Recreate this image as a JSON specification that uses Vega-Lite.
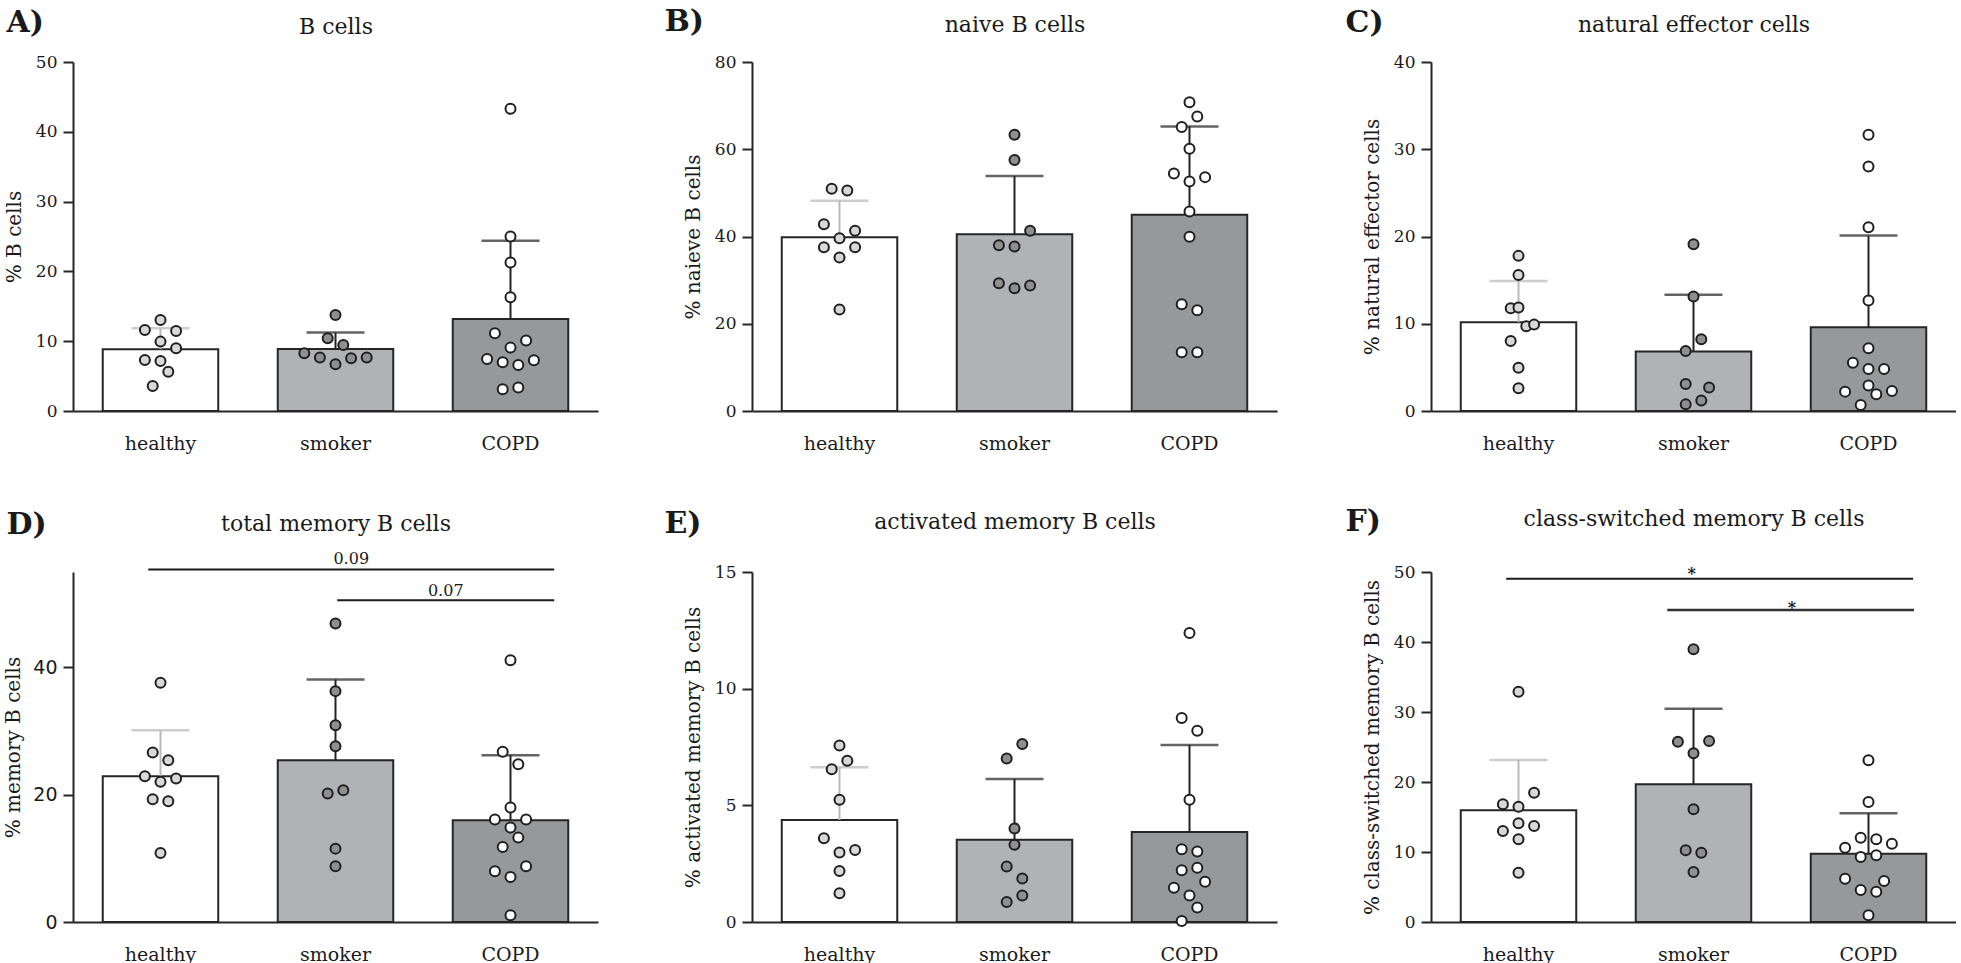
{
"$schema":"https://vega.github.io/schema/vega-lite/v6.json",
"background":"white",
"padding":{"left":3,"top":6,"right":0,"bottom":0},
"datasets":{
"bars":[
{"p":"A","g":"healthy","mean":8.85,"upper":11.85},{"p":"A","g":"smoker","mean":8.9,"upper":11.23},{"p":"A","g":"COPD","mean":13.19,"upper":24.38},
{"p":"B","g":"healthy","mean":39.85,"upper":48.18},{"p":"B","g":"smoker","mean":40.54,"upper":53.84},{"p":"B","g":"COPD","mean":44.97,"upper":65.24},
{"p":"C","g":"healthy","mean":10.17,"upper":14.91},{"p":"C","g":"smoker","mean":6.81,"upper":13.31},{"p":"C","g":"COPD","mean":9.6,"upper":20.11},
{"p":"D","g":"healthy","mean":22.91,"upper":30.14},{"p":"D","g":"smoker","mean":25.43,"upper":38.11},{"p":"D","g":"COPD","mean":15.99,"upper":26.21},
{"p":"E","g":"healthy","mean":4.37,"upper":6.63},{"p":"E","g":"smoker","mean":3.52,"upper":6.13},{"p":"E","g":"COPD","mean":3.86,"upper":7.59},
{"p":"F","g":"healthy","mean":15.95,"upper":23.14},{"p":"F","g":"smoker","mean":19.67,"upper":30.48},{"p":"F","g":"COPD","mean":9.76,"upper":15.52}
],
"dots":[
{"p":"A","g":"healthy","v":13.05,"c":0},{"p":"A","g":"healthy","v":11.62,"c":-2},{"p":"A","g":"healthy","v":11.47,"c":2},{"p":"A","g":"healthy","v":9.94,"c":0},{"p":"A","g":"healthy","v":8.99,"c":2},{"p":"A","g":"healthy","v":7.31,"c":-2},{"p":"A","g":"healthy","v":7.17,"c":0},{"p":"A","g":"healthy","v":5.64,"c":1},{"p":"A","g":"healthy","v":3.59,"c":-1},
{"p":"A","g":"smoker","v":13.77,"c":0},{"p":"A","g":"smoker","v":10.42,"c":-1},{"p":"A","g":"smoker","v":9.46,"c":1},{"p":"A","g":"smoker","v":8.27,"c":-4},{"p":"A","g":"smoker","v":7.65,"c":-2},{"p":"A","g":"smoker","v":6.69,"c":0},{"p":"A","g":"smoker","v":7.55,"c":2},{"p":"A","g":"smoker","v":7.65,"c":4},
{"p":"A","g":"COPD","v":43.31,"c":0},{"p":"A","g":"COPD","v":25.0,"c":0},{"p":"A","g":"COPD","v":21.27,"c":0},{"p":"A","g":"COPD","v":16.3,"c":0},{"p":"A","g":"COPD","v":11.14,"c":-2},{"p":"A","g":"COPD","v":10.09,"c":2},{"p":"A","g":"COPD","v":9.08,"c":0},{"p":"A","g":"COPD","v":7.46,"c":-3},{"p":"A","g":"COPD","v":6.98,"c":-1},{"p":"A","g":"COPD","v":6.6,"c":1},{"p":"A","g":"COPD","v":7.27,"c":3},{"p":"A","g":"COPD","v":3.11,"c":-1},{"p":"A","g":"COPD","v":3.35,"c":1},
{"p":"B","g":"healthy","v":50.94,"c":-1},{"p":"B","g":"healthy","v":50.55,"c":1},{"p":"B","g":"healthy","v":42.83,"c":-2},{"p":"B","g":"healthy","v":41.3,"c":2},{"p":"B","g":"healthy","v":39.62,"c":0},{"p":"B","g":"healthy","v":37.55,"c":-2},{"p":"B","g":"healthy","v":37.55,"c":2},{"p":"B","g":"healthy","v":35.18,"c":0},{"p":"B","g":"healthy","v":23.25,"c":0},
{"p":"B","g":"smoker","v":63.33,"c":0},{"p":"B","g":"smoker","v":57.51,"c":0},{"p":"B","g":"smoker","v":41.3,"c":2},{"p":"B","g":"smoker","v":38.01,"c":-2},{"p":"B","g":"smoker","v":37.7,"c":0},{"p":"B","g":"smoker","v":29.29,"c":-2},{"p":"B","g":"smoker","v":28.15,"c":0},{"p":"B","g":"smoker","v":28.76,"c":2},
{"p":"B","g":"COPD","v":70.75,"c":0},{"p":"B","g":"COPD","v":67.53,"c":1},{"p":"B","g":"COPD","v":65.09,"c":-1},{"p":"B","g":"COPD","v":60.12,"c":0},{"p":"B","g":"COPD","v":54.46,"c":-2},{"p":"B","g":"COPD","v":53.61,"c":2},{"p":"B","g":"COPD","v":52.62,"c":0},{"p":"B","g":"COPD","v":45.74,"c":0},{"p":"B","g":"COPD","v":39.92,"c":0},{"p":"B","g":"COPD","v":24.47,"c":-1},{"p":"B","g":"COPD","v":23.1,"c":1},{"p":"B","g":"COPD","v":13.46,"c":-1},{"p":"B","g":"COPD","v":13.46,"c":1},
{"p":"C","g":"healthy","v":17.78,"c":0},{"p":"C","g":"healthy","v":15.6,"c":0},{"p":"C","g":"healthy","v":11.78,"c":-1},{"p":"C","g":"healthy","v":11.85,"c":0},{"p":"C","g":"healthy","v":9.71,"c":1},{"p":"C","g":"healthy","v":9.9,"c":2},{"p":"C","g":"healthy","v":8.03,"c":-1},{"p":"C","g":"healthy","v":4.97,"c":0},{"p":"C","g":"healthy","v":2.6,"c":0},
{"p":"C","g":"smoker","v":19.12,"c":0},{"p":"C","g":"smoker","v":13.12,"c":0},{"p":"C","g":"smoker","v":8.22,"c":1},{"p":"C","g":"smoker","v":6.88,"c":-1},{"p":"C","g":"smoker","v":3.1,"c":-1},{"p":"C","g":"smoker","v":2.68,"c":2},{"p":"C","g":"smoker","v":1.19,"c":1},{"p":"C","g":"smoker","v":0.76,"c":-1},
{"p":"C","g":"COPD","v":31.66,"c":0},{"p":"C","g":"COPD","v":28.03,"c":0},{"p":"C","g":"COPD","v":21.07,"c":0},{"p":"C","g":"COPD","v":12.66,"c":0},{"p":"C","g":"COPD","v":7.19,"c":0},{"p":"C","g":"COPD","v":5.54,"c":-2},{"p":"C","g":"COPD","v":4.82,"c":0},{"p":"C","g":"COPD","v":4.82,"c":2},{"p":"C","g":"COPD","v":2.91,"c":0},{"p":"C","g":"COPD","v":2.22,"c":-3},{"p":"C","g":"COPD","v":1.91,"c":1},{"p":"C","g":"COPD","v":2.29,"c":3},{"p":"C","g":"COPD","v":0.69,"c":-1},
{"p":"D","g":"healthy","v":37.59,"c":0},{"p":"D","g":"healthy","v":26.63,"c":-1},{"p":"D","g":"healthy","v":25.43,"c":1},{"p":"D","g":"healthy","v":22.91,"c":-2},{"p":"D","g":"healthy","v":22.54,"c":2},{"p":"D","g":"healthy","v":22.02,"c":0},{"p":"D","g":"healthy","v":19.29,"c":-1},{"p":"D","g":"healthy","v":18.98,"c":1},{"p":"D","g":"healthy","v":10.85,"c":0},
{"p":"D","g":"smoker","v":46.92,"c":0},{"p":"D","g":"smoker","v":36.28,"c":0},{"p":"D","g":"smoker","v":30.93,"c":0},{"p":"D","g":"smoker","v":27.63,"c":0},{"p":"D","g":"smoker","v":20.71,"c":1},{"p":"D","g":"smoker","v":20.18,"c":-1},{"p":"D","g":"smoker","v":11.53,"c":0},{"p":"D","g":"smoker","v":8.75,"c":0},
{"p":"D","g":"COPD","v":41.15,"c":0},{"p":"D","g":"COPD","v":26.74,"c":-1},{"p":"D","g":"COPD","v":24.8,"c":1},{"p":"D","g":"COPD","v":17.98,"c":0},{"p":"D","g":"COPD","v":16.09,"c":-2},{"p":"D","g":"COPD","v":16.09,"c":2},{"p":"D","g":"COPD","v":14.84,"c":0},{"p":"D","g":"COPD","v":13.26,"c":1},{"p":"D","g":"COPD","v":11.8,"c":-1},{"p":"D","g":"COPD","v":8.75,"c":2},{"p":"D","g":"COPD","v":7.97,"c":-2},{"p":"D","g":"COPD","v":7.08,"c":0},{"p":"D","g":"COPD","v":1.05,"c":0},
{"p":"E","g":"healthy","v":7.56,"c":0},{"p":"E","g":"healthy","v":6.91,"c":1},{"p":"E","g":"healthy","v":6.55,"c":-1},{"p":"E","g":"healthy","v":5.24,"c":0},{"p":"E","g":"healthy","v":3.59,"c":-2},{"p":"E","g":"healthy","v":3.09,"c":2},{"p":"E","g":"healthy","v":2.98,"c":0},{"p":"E","g":"healthy","v":2.19,"c":0},{"p":"E","g":"healthy","v":1.23,"c":0},
{"p":"E","g":"smoker","v":7.63,"c":1},{"p":"E","g":"smoker","v":7.01,"c":-1},{"p":"E","g":"smoker","v":4.01,"c":0},{"p":"E","g":"smoker","v":3.31,"c":0},{"p":"E","g":"smoker","v":2.38,"c":-1},{"p":"E","g":"smoker","v":1.86,"c":1},{"p":"E","g":"smoker","v":1.14,"c":1},{"p":"E","g":"smoker","v":0.86,"c":-1},
{"p":"E","g":"COPD","v":12.39,"c":0},{"p":"E","g":"COPD","v":8.74,"c":-1},{"p":"E","g":"COPD","v":8.2,"c":1},{"p":"E","g":"COPD","v":5.24,"c":0},{"p":"E","g":"COPD","v":3.12,"c":-1},{"p":"E","g":"COPD","v":3.02,"c":1},{"p":"E","g":"COPD","v":2.22,"c":-1},{"p":"E","g":"COPD","v":2.33,"c":1},{"p":"E","g":"COPD","v":1.72,"c":2},{"p":"E","g":"COPD","v":1.47,"c":-2},{"p":"E","g":"COPD","v":1.14,"c":0},{"p":"E","g":"COPD","v":0.62,"c":1},{"p":"E","g":"COPD","v":0.04,"c":-1},
{"p":"F","g":"healthy","v":32.9,"c":0},{"p":"F","g":"healthy","v":18.48,"c":2},{"p":"F","g":"healthy","v":16.81,"c":-2},{"p":"F","g":"healthy","v":16.48,"c":0},{"p":"F","g":"healthy","v":14.1,"c":0},{"p":"F","g":"healthy","v":13.71,"c":2},{"p":"F","g":"healthy","v":13.0,"c":-2},{"p":"F","g":"healthy","v":11.81,"c":0},{"p":"F","g":"healthy","v":7.05,"c":0},
{"p":"F","g":"smoker","v":38.95,"c":0},{"p":"F","g":"smoker","v":25.76,"c":-2},{"p":"F","g":"smoker","v":25.86,"c":2},{"p":"F","g":"smoker","v":24.1,"c":0},{"p":"F","g":"smoker","v":16.1,"c":0},{"p":"F","g":"smoker","v":10.24,"c":-1},{"p":"F","g":"smoker","v":9.9,"c":1},{"p":"F","g":"smoker","v":7.14,"c":0},
{"p":"F","g":"COPD","v":23.1,"c":0},{"p":"F","g":"COPD","v":17.14,"c":0},{"p":"F","g":"COPD","v":12.05,"c":-1},{"p":"F","g":"COPD","v":11.81,"c":1},{"p":"F","g":"COPD","v":11.19,"c":3},{"p":"F","g":"COPD","v":10.62,"c":-3},{"p":"F","g":"COPD","v":9.29,"c":-1},{"p":"F","g":"COPD","v":9.52,"c":1},{"p":"F","g":"COPD","v":6.19,"c":-3},{"p":"F","g":"COPD","v":5.86,"c":2},{"p":"F","g":"COPD","v":4.57,"c":-1},{"p":"F","g":"COPD","v":4.33,"c":1},{"p":"F","g":"COPD","v":0.95,"c":0}
],
"brk":[
{"id":"D1","from":"healthy","to":"COPD","at":"smoker","y":55.4,"ty":56.3,"label":"0.09"},
{"id":"D2","from":"smoker","to":"COPD","at":"COPD","y":50.55,"ty":51.3,"label":"0.07"},
{"id":"F1","from":"healthy","to":"COPD","at":"smoker","y":49.04,"ty":49.04,"label":"*"},
{"id":"F2","from":"smoker","to":"COPD","at":"COPD","y":44.57,"ty":44.1,"label":"*"}
]
},
"concat":[
{"width":525,"height":349,
"layer":[
{"data":{"name":"bars"},"transform":[{"filter":"datum.p==='A'"}],"mark":{"type":"bar","width":{"band":0.66}},
"encoding":{"x":{"field":"g","type":"nominal","scale":{"type":"band","domain":["healthy","smoker","COPD"],"paddingInner":0,"paddingOuter":0},"axis":{"orient":"bottom","title":null}},
"y":{"field":"mean","type":"quantitative","scale":{"domain":[0,50],"nice":false},"axis":{"title":"% B cells","values":[0,10,20,30,40,50],"titlePadding":11}},
"fill":{"field":"g","type":"nominal","scale":{"domain":["healthy","smoker","COPD"],"range":["#ffffff","#b1b2b5","#97989a"]}}}},
{"data":{"name":"bars"},"transform":[{"filter":"datum.p==='A'"}],"mark":"rule",
"encoding":{"x":{"field":"g","type":"nominal","axis":null},"y":{"field":"mean","type":"quantitative"},"y2":{"field":"upper"},
"color":{"field":"g","type":"nominal","scale":{"domain":["healthy","smoker","COPD"],"range":["#b8b8b8","#222222","#222222"]}}}},
{"data":{"name":"bars"},"transform":[{"filter":"datum.p==='A'"}],"mark":"tick",
"encoding":{"x":{"field":"g","type":"nominal","axis":{"orient":"top","title":"B cells","titleY":-29,"titleFontSize":22}},"y":{"field":"upper","type":"quantitative"},"color":{"field":"g","type":"nominal"}}},
{"data":{"name":"dots"},"transform":[{"filter":"datum.p==='A'"}],"mark":"point",
"encoding":{"x":{"field":"g","type":"nominal","axis":{"orient":"top","title":"A)","titleX":-67,"titleY":-31,"titleAlign":"left","titleAnchor":"start","titleFontSize":30,"titleFontWeight":"bold"}},
"xOffset":{"field":"c","type":"quantitative","scale":{"domain":[-4,4],"range":[56.3,118.7]}},
"y":{"field":"v","type":"quantitative"},
"fill":{"field":"g","type":"nominal","scale":{"domain":["healthy","smoker","COPD"],"range":["#d8d8d8","#8f8f8f","#ffffff"]}}}}
],
"resolve":{"scale":{"fill":"independent","xOffset":"independent"},"axis":{"x":"independent"}}},
{"width":525,"height":349,
"layer":[
{"data":{"name":"bars"},"transform":[{"filter":"datum.p==='B'"}],"mark":{"type":"bar","width":{"band":0.66}},
"encoding":{"x":{"field":"g","type":"nominal","scale":{"type":"band","domain":["healthy","smoker","COPD"],"paddingInner":0,"paddingOuter":0},"axis":{"orient":"bottom","title":null}},
"y":{"field":"mean","type":"quantitative","scale":{"domain":[0,80],"nice":false},"axis":{"title":"% naieve B cells","values":[0,20,40,60,80]}},
"fill":{"field":"g","type":"nominal","scale":{"domain":["healthy","smoker","COPD"],"range":["#ffffff","#b1b2b5","#97989a"]}}}},
{"data":{"name":"bars"},"transform":[{"filter":"datum.p==='B'"}],"mark":"rule",
"encoding":{"x":{"field":"g","type":"nominal","axis":null},"y":{"field":"mean","type":"quantitative"},"y2":{"field":"upper"},
"color":{"field":"g","type":"nominal","scale":{"domain":["healthy","smoker","COPD"],"range":["#b8b8b8","#222222","#222222"]}}}},
{"data":{"name":"bars"},"transform":[{"filter":"datum.p==='B'"}],"mark":"tick",
"encoding":{"x":{"field":"g","type":"nominal","axis":{"orient":"top","title":"naive B cells","titleY":-31,"titleFontSize":22}},"y":{"field":"upper","type":"quantitative"},"color":{"field":"g","type":"nominal"}}},
{"data":{"name":"dots"},"transform":[{"filter":"datum.p==='B'"}],"mark":"point",
"encoding":{"x":{"field":"g","type":"nominal","axis":{"orient":"top","title":"B)","titleX":-88,"titleY":-32,"titleAlign":"left","titleAnchor":"start","titleFontSize":30,"titleFontWeight":"bold"}},
"xOffset":{"field":"c","type":"quantitative","scale":{"domain":[-4,4],"range":[56.3,118.7]}},
"y":{"field":"v","type":"quantitative"},
"fill":{"field":"g","type":"nominal","scale":{"domain":["healthy","smoker","COPD"],"range":["#d8d8d8","#8f8f8f","#ffffff"]}}}}
],
"resolve":{"scale":{"fill":"independent","xOffset":"independent"},"axis":{"x":"independent"}}},
{"width":525,"height":349,
"layer":[
{"data":{"name":"bars"},"transform":[{"filter":"datum.p==='C'"}],"mark":{"type":"bar","width":{"band":0.66}},
"encoding":{"x":{"field":"g","type":"nominal","scale":{"type":"band","domain":["healthy","smoker","COPD"],"paddingInner":0,"paddingOuter":0},"axis":{"orient":"bottom","title":null}},
"y":{"field":"mean","type":"quantitative","scale":{"domain":[0,40],"nice":false},"axis":{"title":"% natural effector cells","values":[0,10,20,30,40]}},
"fill":{"field":"g","type":"nominal","scale":{"domain":["healthy","smoker","COPD"],"range":["#ffffff","#b1b2b5","#97989a"]}}}},
{"data":{"name":"bars"},"transform":[{"filter":"datum.p==='C'"}],"mark":"rule",
"encoding":{"x":{"field":"g","type":"nominal","axis":null},"y":{"field":"mean","type":"quantitative"},"y2":{"field":"upper"},
"color":{"field":"g","type":"nominal","scale":{"domain":["healthy","smoker","COPD"],"range":["#b8b8b8","#222222","#222222"]}}}},
{"data":{"name":"bars"},"transform":[{"filter":"datum.p==='C'"}],"mark":"tick",
"encoding":{"x":{"field":"g","type":"nominal","axis":{"orient":"top","title":"natural effector cells","titleY":-31,"titleFontSize":22}},"y":{"field":"upper","type":"quantitative"},"color":{"field":"g","type":"nominal"}}},
{"data":{"name":"dots"},"transform":[{"filter":"datum.p==='C'"}],"mark":"point",
"encoding":{"x":{"field":"g","type":"nominal","axis":{"orient":"top","title":"C)","titleX":-86,"titleY":-31,"titleAlign":"left","titleAnchor":"start","titleFontSize":30,"titleFontWeight":"bold"}},
"xOffset":{"field":"c","type":"quantitative","scale":{"domain":[-4,4],"range":[56.3,118.7]}},
"y":{"field":"v","type":"quantitative"},
"fill":{"field":"g","type":"nominal","scale":{"domain":["healthy","smoker","COPD"],"range":["#d8d8d8","#8f8f8f","#ffffff"]}}}}
],
"resolve":{"scale":{"fill":"independent","xOffset":"independent"},"axis":{"x":"independent"}}},
{"width":525,"height":350,
"layer":[
{"data":{"name":"bars"},"transform":[{"filter":"datum.p==='D'"}],"mark":{"type":"bar","width":{"band":0.66}},
"encoding":{"x":{"field":"g","type":"nominal","scale":{"type":"band","domain":["healthy","smoker","COPD"],"paddingInner":0,"paddingOuter":0},"axis":{"orient":"bottom","title":null}},
"y":{"field":"mean","type":"quantitative","scale":{"domain":[0,55],"nice":false},"axis":{"title":"% memory B cells","values":[0,20,40],"labelFont":"DejaVu Sans","labelFontSize":19,"titlePadding":9}},
"fill":{"field":"g","type":"nominal","scale":{"domain":["healthy","smoker","COPD"],"range":["#ffffff","#b1b2b5","#97989a"]}}}},
{"data":{"name":"bars"},"transform":[{"filter":"datum.p==='D'"}],"mark":"rule",
"encoding":{"x":{"field":"g","type":"nominal","axis":null},"y":{"field":"mean","type":"quantitative"},"y2":{"field":"upper"},
"color":{"field":"g","type":"nominal","scale":{"domain":["healthy","smoker","COPD"],"range":["#b8b8b8","#222222","#222222"]}}}},
{"data":{"name":"bars"},"transform":[{"filter":"datum.p==='D'"}],"mark":"tick",
"encoding":{"x":{"field":"g","type":"nominal","axis":{"orient":"top","title":"total memory B cells","titleY":-42,"titleFontSize":22}},"y":{"field":"upper","type":"quantitative"},"color":{"field":"g","type":"nominal"}}},
{"data":{"name":"dots"},"transform":[{"filter":"datum.p==='D'"}],"mark":"point",
"encoding":{"x":{"field":"g","type":"nominal","axis":{"orient":"top","title":"D)","titleX":-67,"titleY":-39,"titleAlign":"left","titleAnchor":"start","titleFontSize":30,"titleFontWeight":"bold"}},
"xOffset":{"field":"c","type":"quantitative","scale":{"domain":[-4,4],"range":[56.3,118.7]}},
"y":{"field":"v","type":"quantitative"},
"fill":{"field":"g","type":"nominal","scale":{"domain":["healthy","smoker","COPD"],"range":["#d8d8d8","#8f8f8f","#ffffff"]}}}},
{"data":{"name":"brk"},"transform":[{"filter":"datum.id==='D1'"}],"mark":{"type":"rule","color":"#1a1a1a","strokeWidth":2},
"encoding":{"x":{"field":"from","type":"nominal","bandPosition":0.43,"axis":null},"x2":{"field":"to","bandPosition":0.75},"y":{"field":"y","type":"quantitative"}}},
{"data":{"name":"brk"},"transform":[{"filter":"datum.id==='D2'"}],"mark":{"type":"rule","color":"#1a1a1a","strokeWidth":2},
"encoding":{"x":{"field":"from","type":"nominal","bandPosition":0.51,"axis":null},"x2":{"field":"to","bandPosition":0.75},"y":{"field":"y","type":"quantitative"}}},
{"data":{"name":"brk"},"transform":[{"filter":"datum.id==='D1'"}],"mark":{"type":"text","baseline":"alphabetic","font":"DejaVu Serif","fontSize":16,"color":"#1a1a1a"},
"encoding":{"x":{"field":"at","type":"nominal","bandPosition":0.59,"axis":null},"y":{"field":"ty","type":"quantitative"},"text":{"field":"label"}}},
{"data":{"name":"brk"},"transform":[{"filter":"datum.id==='D2'"}],"mark":{"type":"text","baseline":"alphabetic","font":"DejaVu Serif","fontSize":16,"color":"#1a1a1a"},
"encoding":{"x":{"field":"at","type":"nominal","bandPosition":0.13,"axis":null},"y":{"field":"ty","type":"quantitative"},"text":{"field":"label"}}}
],
"resolve":{"scale":{"fill":"independent","xOffset":"independent"},"axis":{"x":"independent"}}},
{"width":525,"height":350,
"layer":[
{"data":{"name":"bars"},"transform":[{"filter":"datum.p==='E'"}],"mark":{"type":"bar","width":{"band":0.66}},
"encoding":{"x":{"field":"g","type":"nominal","scale":{"type":"band","domain":["healthy","smoker","COPD"],"paddingInner":0,"paddingOuter":0},"axis":{"orient":"bottom","title":null}},
"y":{"field":"mean","type":"quantitative","scale":{"domain":[0,15],"nice":false},"axis":{"title":"% activated memory B cells","values":[0,5,10,15]}},
"fill":{"field":"g","type":"nominal","scale":{"domain":["healthy","smoker","COPD"],"range":["#ffffff","#b1b2b5","#97989a"]}}}},
{"data":{"name":"bars"},"transform":[{"filter":"datum.p==='E'"}],"mark":"rule",
"encoding":{"x":{"field":"g","type":"nominal","axis":null},"y":{"field":"mean","type":"quantitative"},"y2":{"field":"upper"},
"color":{"field":"g","type":"nominal","scale":{"domain":["healthy","smoker","COPD"],"range":["#b8b8b8","#222222","#222222"]}}}},
{"data":{"name":"bars"},"transform":[{"filter":"datum.p==='E'"}],"mark":"tick",
"encoding":{"x":{"field":"g","type":"nominal","axis":{"orient":"top","title":"activated memory B cells","titleY":-44,"titleFontSize":22}},"y":{"field":"upper","type":"quantitative"},"color":{"field":"g","type":"nominal"}}},
{"data":{"name":"dots"},"transform":[{"filter":"datum.p==='E'"}],"mark":"point",
"encoding":{"x":{"field":"g","type":"nominal","axis":{"orient":"top","title":"E)","titleX":-88,"titleY":-40,"titleAlign":"left","titleAnchor":"start","titleFontSize":30,"titleFontWeight":"bold"}},
"xOffset":{"field":"c","type":"quantitative","scale":{"domain":[-4,4],"range":[56.3,118.7]}},
"y":{"field":"v","type":"quantitative"},
"fill":{"field":"g","type":"nominal","scale":{"domain":["healthy","smoker","COPD"],"range":["#d8d8d8","#8f8f8f","#ffffff"]}}}}
],
"resolve":{"scale":{"fill":"independent","xOffset":"independent"},"axis":{"x":"independent"}}},
{"width":525,"height":350,
"layer":[
{"data":{"name":"bars"},"transform":[{"filter":"datum.p==='F'"}],"mark":{"type":"bar","width":{"band":0.66}},
"encoding":{"x":{"field":"g","type":"nominal","scale":{"type":"band","domain":["healthy","smoker","COPD"],"paddingInner":0,"paddingOuter":0},"axis":{"orient":"bottom","title":null}},
"y":{"field":"mean","type":"quantitative","scale":{"domain":[0,50],"nice":false},"axis":{"title":"% class-switched memory B cells","values":[0,10,20,30,40,50]}},
"fill":{"field":"g","type":"nominal","scale":{"domain":["healthy","smoker","COPD"],"range":["#ffffff","#b1b2b5","#97989a"]}}}},
{"data":{"name":"bars"},"transform":[{"filter":"datum.p==='F'"}],"mark":"rule",
"encoding":{"x":{"field":"g","type":"nominal","axis":null},"y":{"field":"mean","type":"quantitative"},"y2":{"field":"upper"},
"color":{"field":"g","type":"nominal","scale":{"domain":["healthy","smoker","COPD"],"range":["#b8b8b8","#222222","#222222"]}}}},
{"data":{"name":"bars"},"transform":[{"filter":"datum.p==='F'"}],"mark":"tick",
"encoding":{"x":{"field":"g","type":"nominal","axis":{"orient":"top","title":"class-switched memory B cells","titleY":-47,"titleFontSize":22}},"y":{"field":"upper","type":"quantitative"},"color":{"field":"g","type":"nominal"}}},
{"data":{"name":"dots"},"transform":[{"filter":"datum.p==='F'"}],"mark":"point",
"encoding":{"x":{"field":"g","type":"nominal","axis":{"orient":"top","title":"F)","titleX":-86,"titleY":-42,"titleAlign":"left","titleAnchor":"start","titleFontSize":30,"titleFontWeight":"bold"}},
"xOffset":{"field":"c","type":"quantitative","scale":{"domain":[-4,4],"range":[56.3,118.7]}},
"y":{"field":"v","type":"quantitative"},
"fill":{"field":"g","type":"nominal","scale":{"domain":["healthy","smoker","COPD"],"range":["#d8d8d8","#8f8f8f","#ffffff"]}}}},
{"data":{"name":"brk"},"transform":[{"filter":"datum.id==='F1'"}],"mark":{"type":"rule","color":"#1a1a1a","strokeWidth":2},
"encoding":{"x":{"field":"from","type":"nominal","bandPosition":0.43,"axis":null},"x2":{"field":"to","bandPosition":0.755},"y":{"field":"y","type":"quantitative"}}},
{"data":{"name":"brk"},"transform":[{"filter":"datum.id==='F2'"}],"mark":{"type":"rule","color":"#333333","strokeWidth":2.5},
"encoding":{"x":{"field":"from","type":"nominal","bandPosition":0.35,"axis":null},"x2":{"field":"to","bandPosition":0.76},"y":{"field":"y","type":"quantitative"}}},
{"data":{"name":"brk"},"transform":[{"filter":"datum.id==='F1'"}],"mark":{"type":"text","baseline":"alphabetic","font":"DejaVu Serif","fontSize":16,"fontWeight":"bold","color":"#1a1a1a"},
"encoding":{"x":{"field":"at","type":"nominal","bandPosition":0.49,"axis":null},"y":{"field":"ty","type":"quantitative"},"text":{"field":"label"}}},
{"data":{"name":"brk"},"transform":[{"filter":"datum.id==='F2'"}],"mark":{"type":"text","baseline":"alphabetic","font":"DejaVu Serif","fontSize":16,"fontWeight":"bold","color":"#1a1a1a"},
"encoding":{"x":{"field":"at","type":"nominal","bandPosition":0.063,"axis":null},"y":{"field":"ty","type":"quantitative"},"text":{"field":"label"}}}
],
"resolve":{"scale":{"fill":"independent","xOffset":"independent"},"axis":{"x":"independent"}}}
],
"columns":3,
"bounds":"flush",
"spacing":{"row":161,"column":154},
"config":{
"view":{"stroke":null},
"font":"DejaVu Serif",
"legend":{"disable":true},
"axis":{"grid":false,"domainColor":"#262626","domainWidth":2,"tickColor":"#262626","tickWidth":2,"labelFont":"DejaVu Serif","labelColor":"#1a1a1a","titleFont":"DejaVu Serif","titleColor":"#1a1a1a","titleFontWeight":"normal"},
"axisLeft":{"tickSize":10,"labelPadding":6,"labelFontSize":17,"titleFontSize":20,"titlePadding":11},
"axisBottom":{"ticks":false,"tickSize":0,"labelPadding":23,"labelFontSize":19,"labelAngle":0},
"axisTop":{"domain":false,"ticks":false,"labels":false,"titleBaseline":"alphabetic"},
"bar":{"stroke":"#262626","strokeWidth":2},
"point":{"filled":true,"size":100,"stroke":"#1f1f1f","strokeWidth":2,"opacity":1},
"rule":{"strokeWidth":2},
"tick":{"thickness":2.5,"size":58}
}
}
